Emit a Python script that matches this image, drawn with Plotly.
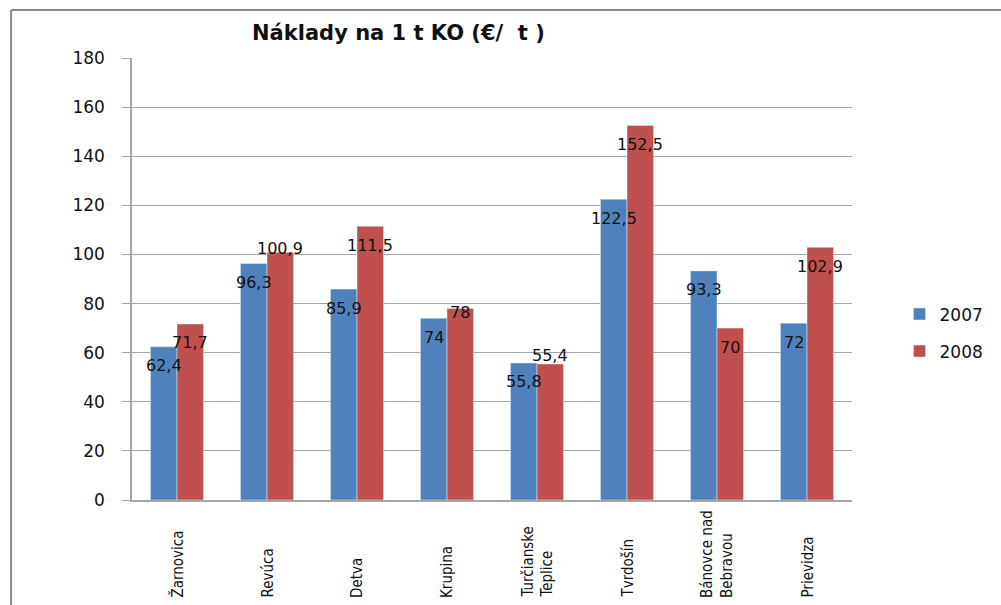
import plotly.graph_objects as go

# data
towns = [
    "Žarnovica",
    "Revúca",
    "Detva",
    "Krupina",
    "Turčianske<br>Teplice",
    "Tvrdošín",
    "Bánovce nad<br>Bebravou",
    "Prievidza",
]
cost_2007 = [62.4, 96.3, 85.9, 74, 55.8, 122.5, 93.3, 72]
cost_2008 = [71.7, 100.9, 111.5, 78, 55.4, 152.5, 70, 102.9]
y_ticks = [0, 20, 40, 60, 80, 100, 120, 140, 160, 180]

# label placement (pixels, negative = below bar top) as in the source chart
shift_2007 = [-19, -19, -19, -19, -19, -19, -19, -19]
shift_2008 = [-19, 4, -19, -4, 8, -19, -19, -19]

BLUE = "#4F81BD"
RED = "#C0504D"
GRID = "#a6a6a6"
LABEL_FONT = dict(family="DejaVu Sans", size=16, color="#111111")
BAR_GAP = 0.41
HALF_BAR = (1 - BAR_GAP) / 4  # centre of each bar relative to its category


def fmt(v):
    return f"{v:g}".replace(".", ",")


fig = go.Figure()

fig.add_trace(go.Bar(x=towns, y=cost_2007, name="2007", marker_color=BLUE,
                     legendgroup="a"))
fig.add_trace(go.Bar(x=towns, y=cost_2008, name="2008", marker_color=RED,
                     legendgroup="b"))

# data labels, centred on their bar
for series, shifts, side in [(cost_2007, shift_2007, -1), (cost_2008, shift_2008, 1)]:
    for i, (v, s) in enumerate(zip(series, shifts)):
        fig.add_annotation(
            x=i + side * HALF_BAR, y=v, xref="x", yref="y",
            text=fmt(v), showarrow=False, font=LABEL_FONT,
            yshift=s, yanchor="middle",
        )

# category labels, rotated and bottom aligned like Excel
for i, t in enumerate(towns):
    fig.add_annotation(
        x=i, y=0, xref="x", yref="paper", text=t, showarrow=False,
        textangle=-90, yanchor="bottom", xanchor="center", align="left",
        yshift=-100,
        font=dict(family="DejaVu Sans Condensed, DejaVu Sans", size=15,
                  color="#111111"),
    )

# "Graf č. 2" caption, mostly cut off at the top of the page
fig.add_annotation(
    x=-0.181, y=1.1154, xref="paper", yref="paper", text="Graf č. 2",
    showarrow=False, xanchor="left", yanchor="bottom",
    font=dict(family="Liberation Serif", size=21, color="#000000"),
)

# chart border: only its top and left sides fall inside the page
border = dict(color="#8c8c8c", width=2)
fig.add_shape(type="line", xref="paper", yref="paper",
              x0=-0.168, x1=1.5, y0=1.1086, y1=1.1086, line=border, layer="below")
fig.add_shape(type="line", xref="paper", yref="paper",
              x0=-0.168, x1=-0.168, y0=-0.5, y1=1.1086, line=border, layer="below")

fig.update_layout(
    width=1001,
    height=605,
    margin=dict(l=132, r=138, t=58, b=105),
    paper_bgcolor="white",
    plot_bgcolor="white",
    barmode="group",
    bargap=BAR_GAP,
    bargroupgap=0,
    title=dict(
        text="Náklady na 1 t KO (€/\u00a0\u00a0t\u00a0)",
        x=0.37, xref="paper", xanchor="center",
        y=1 - 33 / 605, yref="container", yanchor="middle",
        font=dict(family="DejaVu Sans", size=21, color="#111111", weight="bold"),
    ),
    xaxis=dict(
        showticklabels=False,
        showline=True, linecolor=GRID, linewidth=1.5,
        showgrid=False, ticks="", zeroline=False,
        range=[-0.5, len(towns) - 0.5],
    ),
    yaxis=dict(
        range=[0, 180],
        tickvals=y_ticks,
        showgrid=True, gridcolor=GRID, gridwidth=1,
        showline=True, linecolor=GRID, linewidth=1.5,
        ticks="outside", ticklen=8, tickcolor=GRID,
        ticklabelstandoff=14,
        zeroline=False,
        tickfont=dict(family="DejaVu Sans", size=17, color="#111111"),
    ),
    legend=dict(
        x=1.066, y=0.378, xref="paper", yref="paper",
        xanchor="left", yanchor="middle",
        traceorder="grouped", tracegroupgap=12,
        font=dict(family="DejaVu Sans", size=17, color="#111111"),
        itemwidth=30,
    ),
    showlegend=True,
)

# the page body has a default 8px margin; drop it so the figure sits at 0,0
fig.write_html(
    "out.html",
    config={"displayModeBar": False},
    post_script="document.body.style.margin='0';document.body.style.overflow='hidden';",
)
